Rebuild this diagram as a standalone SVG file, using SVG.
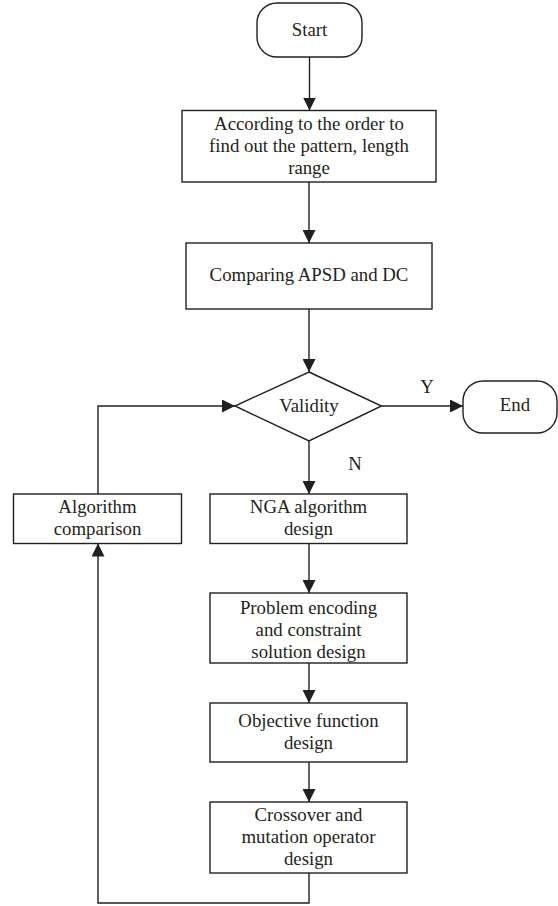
<svg xmlns="http://www.w3.org/2000/svg" width="558" height="906" viewBox="0 0 558 906">
<defs>
<marker id="arr" markerWidth="13" markerHeight="13" refX="13" refY="6.5" orient="auto" markerUnits="userSpaceOnUse">
<path d="M0,0 L13,6.5 L0,13 z" fill="#231f20"/>
</marker>
<style>
.s{fill:#fff;stroke:#231f20;stroke-width:1.4}
.t{font-family:"Liberation Serif","Times New Roman",serif;font-size:18.8px;fill:#231f20;text-anchor:middle}
.c{fill:none;stroke:#231f20;stroke-width:1.4;marker-end:url(#arr)}
</style>
</defs>
<rect width="558" height="906" fill="#fff"/>
<g id="connectors">
<path class="c" d="M309.5,57 L309.5,110.5"/>
<path class="c" d="M309,182 L309,243"/>
<path class="c" d="M309,309 L309,372"/>
<path class="c" d="M381.5,406 L463,406"/>
<path class="c" d="M309,441 L309,494"/>
<path class="c" d="M309,543 L309,593"/>
<path class="c" d="M309,663 L309,703"/>
<path class="c" d="M309,762 L309,802"/>
<path class="c" d="M309,873 L309,903 L98,903 L98,543.5"/>
<path class="c" d="M98,494 L98,406 L235,406"/>
</g>
<g id="start">
<rect class="s" x="257" y="3" width="105" height="54" rx="20" ry="20"/>
<text class="t" x="309.5" y="36">Start</text>
</g>
<g id="order">
<rect class="s" x="182" y="110.5" width="254" height="71.5"/>
<text class="t" x="309" y="130">According to the order to</text>
<text class="t" x="309" y="152">find out the pattern, length</text>
<text class="t" x="309" y="174">range</text>
</g>
<g id="compare">
<rect class="s" x="186" y="243" width="246" height="66"/>
<text class="t" x="309" y="281">Comparing APSD and DC</text>
</g>
<g id="validity">
<polygon class="s" points="309,372 381.5,406 309,441 235,406"/>
<text class="t" x="309" y="412">Validity</text>
</g>
<g id="end">
<rect class="s" x="463" y="381" width="94" height="52" rx="20" ry="20"/>
<text class="t" x="515" y="411">End</text>
</g>
<g id="labels">
<text class="t" x="427" y="393">Y</text>
<text class="t" x="355" y="470">N</text>
</g>
<g id="algcomp">
<rect class="s" x="13.5" y="494" width="168" height="49.5"/>
<text class="t" x="97.5" y="513">Algorithm</text>
<text class="t" x="97.5" y="535">comparison</text>
</g>
<g id="nga">
<rect class="s" x="210" y="494" width="197" height="49.5"/>
<text class="t" x="308.5" y="513">NGA algorithm</text>
<text class="t" x="308.5" y="535">design</text>
</g>
<g id="problem">
<rect class="s" x="210" y="593" width="197" height="70"/>
<text class="t" x="308.5" y="614">Problem encoding</text>
<text class="t" x="308.5" y="636">and constraint</text>
<text class="t" x="308.5" y="658">solution design</text>
</g>
<g id="objective">
<rect class="s" x="210" y="703" width="197" height="59"/>
<text class="t" x="308.5" y="727">Objective function</text>
<text class="t" x="308.5" y="749">design</text>
</g>
<g id="crossover">
<rect class="s" x="210" y="802" width="197" height="71"/>
<text class="t" x="308.5" y="821">Crossover and</text>
<text class="t" x="308.5" y="843">mutation operator</text>
<text class="t" x="308.5" y="865">design</text>
</g>
</svg>
